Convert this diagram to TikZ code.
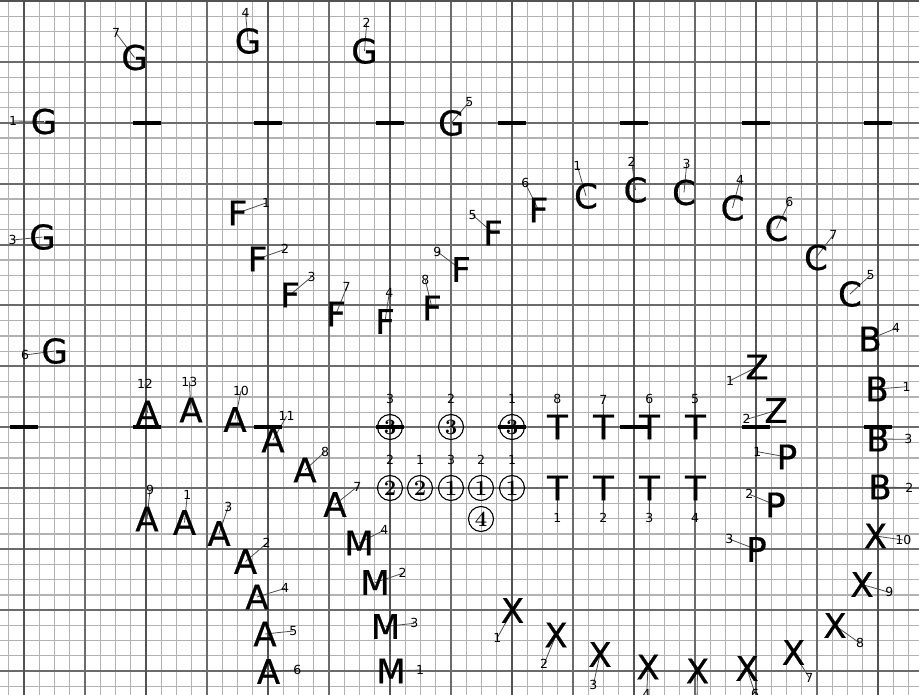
\documentclass[tikz,border=0pt]{standalone}
\usepackage{fontspec}
\newfontfamily\dvs{DejaVu Sans}
\newfontfamily\dvsb[FakeBold=0.6]{DejaVu Sans}
\pgfdeclarelayer{bg}
\pgfsetlayers{bg,main}
\tikzset{
  letr/.style={font=\dvsb\fontsize{34}{34}\selectfont, inner sep=0pt, text=black},
  lab/.style={font=\dvs\fontsize{12.5}{12.5}\selectfont, inner sep=0pt, text=black},
  lead/.style={draw=black!70, line width=0.8pt},
  circ/.style={circle, draw=black, line width=1.1pt, minimum size=25pt, inner sep=0pt,
    font=\fontsize{22}{22}\selectfont\bfseries},
  minorln/.style={draw=black!30, line width=1.2pt},
  majorln/.style={draw=black!58, line width=2pt},
  majorlnd/.style={draw=black!68, line width=2.4pt},
  barln/.style={draw=black, line width=3.5pt}
}
\newcommand\lett[5]{%
  \node[letr] (#1) at (#2) {#3};
  \node[lab] (#1l) at (#4) {#5};
  \begin{pgfonlayer}{bg}\draw[lead] (#1l.center) -- (#1.center);\end{pgfonlayer}}
\newcommand\circd[5]{%
  \node[circ] (#1) at (#2) {#3};
  \node[lab] (#1l) at (#4) {#5};
  \begin{pgfonlayer}{bg}\draw[lead] (#1l.center) -- (#1.center);\end{pgfonlayer}}
\begin{document}
\begin{tikzpicture}[x=1pt,y=-1pt]
\useasboundingbox (0,0) rectangle (919,695);
\begin{pgfonlayer}{bg}
\fill[white] (0,0) rectangle (919,695);
\begin{scope}
\clip (0,0) rectangle (919,695);
\foreach \i in {-1,...,59} \draw[minorln] ({24+15.25*\i},-5) -- ({24+15.25*\i},700);
\foreach \j in {0,...,46} \draw[minorln] (-5,{1+15.23*\j}) -- (925,{1+15.23*\j});
\foreach \j in {0,...,11} \draw[majorln] (-5,{1+60.9*\j}) -- (925,{1+60.9*\j});
\foreach \i in {0,...,14} \draw[majorln] ({24+61*\i},-5) -- ({24+61*\i},700);
\foreach \i in {0,2,...,14} \draw[majorlnd] ({24+61*\i},-5) -- ({24+61*\i},700);
\draw[majorlnd] (-5,0.5) -- (925,0.5);
\end{scope}
\end{pgfonlayer}

% G
\lett{g7}{134.5,57.5}{G}{116,33}{7}
\lett{g4}{248,41}{G}{245.6,13.3}{4}
\lett{g2}{364.5,51}{G}{366.7,22.7}{2}
\lett{g1}{44,121.5}{G}{13,121}{1}
\lett{g5}{451.3,123}{G}{469.3,101.7}{5}
\lett{g3}{42.5,237}{G}{12.7,240}{3}
\lett{g6}{54.7,351}{G}{25,355}{6}
% F
\lett{f1}{237.5,213}{F}{266,203}{1}
\lett{f2}{257.5,259}{F}{285,249.3}{2}
\lett{f3}{290,295}{F}{311.7,276.7}{3}
\lett{f7}{336,314}{F}{346.7,287.3}{7}
\lett{f4}{385,321.5}{F}{389.3,292.7}{4}
\lett{f8}{432,308}{F}{425.3,280}{8}
\lett{f9}{461,269.5}{F}{437.3,251.7}{9}
\lett{f5}{493,233}{F}{472.7,215}{5}
\lett{f6}{538.5,210}{F}{525.3,183.3}{6}
% C
\lett{c1}{586,196}{C}{577.3,165.7}{1}
\lett{c2}{635.5,190}{C}{631.7,161.7}{2}
\lett{c3}{684,192.5}{C}{686.7,164}{3}
\lett{c4}{732.5,208}{C}{740,180}{4}
\lett{c6}{776.5,228.5}{C}{789.3,202.3}{6}
\lett{c7}{816,257.5}{C}{833.3,235}{7}
\lett{c5}{850,294}{C}{870.7,275}{5}
% B
\lett{b4}{870,339}{B}{896,328.3}{4}
\lett{b1}{877,389}{B}{906.7,386.7}{1}
\lett{b3}{878,439}{B}{908.3,439.3}{3}
\lett{b2}{880,487}{B}{909.3,487.7}{2}
% X
\lett{x10}{875.5,536}{X}{903.3,540}{10}
\lett{x9}{862,584.5}{X}{889.3,592.3}{9}
\lett{x8}{835,625.5}{X}{860,643.3}{8}
\lett{x7}{793.5,652.5}{X}{809.3,677.7}{7}
\lett{x6}{747,668.5}{X}{755,693.5}{6}
\lett{x5}{697.5,671}{X}{697,702}{5}
\lett{x4}{648,667}{X}{646.7,693.5}{4}
\lett{x3}{600,654.5}{X}{593.3,685}{3}
\lett{x2}{556,635}{X}{544,664.3}{2}
\lett{x1}{512.5,610.5}{X}{497.3,637.7}{1}
% P
\lett{p1}{787,457}{P}{757.3,451.7}{1}
\lett{p2}{775.5,505}{P}{749.3,494.3}{2}
\lett{p3}{756.5,549.5}{P}{729.3,539}{3}
% Z
\lett{z1}{757,367}{Z}{730,380.7}{1}
\lett{z2}{776,410.5}{Z}{746.7,419.3}{2}
% T
\lett{t8}{557.5,427}{T}{557.3,399.3}{8}
\lett{t7}{603.5,427}{T}{603.3,400}{7}
\lett{t6}{649.5,427}{T}{649.3,399.3}{6}
\lett{t5}{695.5,427}{T}{695,399.3}{5}
\lett{t1}{557.5,488}{T}{557.3,518.3}{1}
\lett{t2}{603.5,488}{T}{603.3,518.3}{2}
\lett{t3}{649.5,488}{T}{649.3,518.3}{3}
\lett{t4}{695.5,488}{T}{695,518.3}{4}
% A
\lett{a12}{147.5,413}{A}{145,384}{12}
\lett{a13}{191,410}{A}{189.3,381.7}{13}
\lett{a10}{235,419.5}{A}{241,391}{10}
\lett{a11}{273,440}{A}{286.7,416}{11}
\lett{a8}{305,470}{A}{325,451.7}{8}
\lett{a7}{335,504.5}{A}{357.3,486.7}{7}
\lett{a9}{147,519}{A}{150,490}{9}
\lett{a1}{184.5,522.5}{A}{187.3,495}{1}
\lett{a3}{219,533.5}{A}{228.3,506.7}{3}
\lett{a2}{245.5,561.5}{A}{266.7,543.3}{2}
\lett{a4}{257,597}{A}{285,588.3}{4}
\lett{a5}{265,634}{A}{293.3,631}{5}
\lett{a6}{268.5,671.5}{A}{297.3,670}{6}
% M
\lett{m4}{359,543}{M}{384.3,530}{4}
\lett{m2}{375,582.5}{M}{402.7,573.3}{2}
\lett{m3}{385.5,626.5}{M}{414.3,623.3}{3}
\lett{m1}{391,671}{M}{420,670}{1}
% circled
\circd{k1}{390,427}{3}{390,399}{3}
\circd{k2}{451,427}{3}{451,399}{2}
\circd{k3}{512,427}{3}{512,399}{1}
\circd{k4}{390,488}{2}{390,460}{2}
\circd{k5}{420,488}{2}{420,460}{1}
\circd{k6}{451,488}{1}{451,460}{3}
\circd{k7}{481,488}{1}{481,460}{2}
\circd{k8}{512,488}{1}{512,460}{1}
\node[circ] (k9) at (481,519) {4};

% bars
\foreach \x in {147,268,390,512,634,756,878} \draw[barln] (\x-14,123) -- (\x+14,123);
\foreach \x in {24,147,268,390,512,634,756,878} \draw[barln] (\x-14,427) -- (\x+14,427);
\end{tikzpicture}
\end{document}
